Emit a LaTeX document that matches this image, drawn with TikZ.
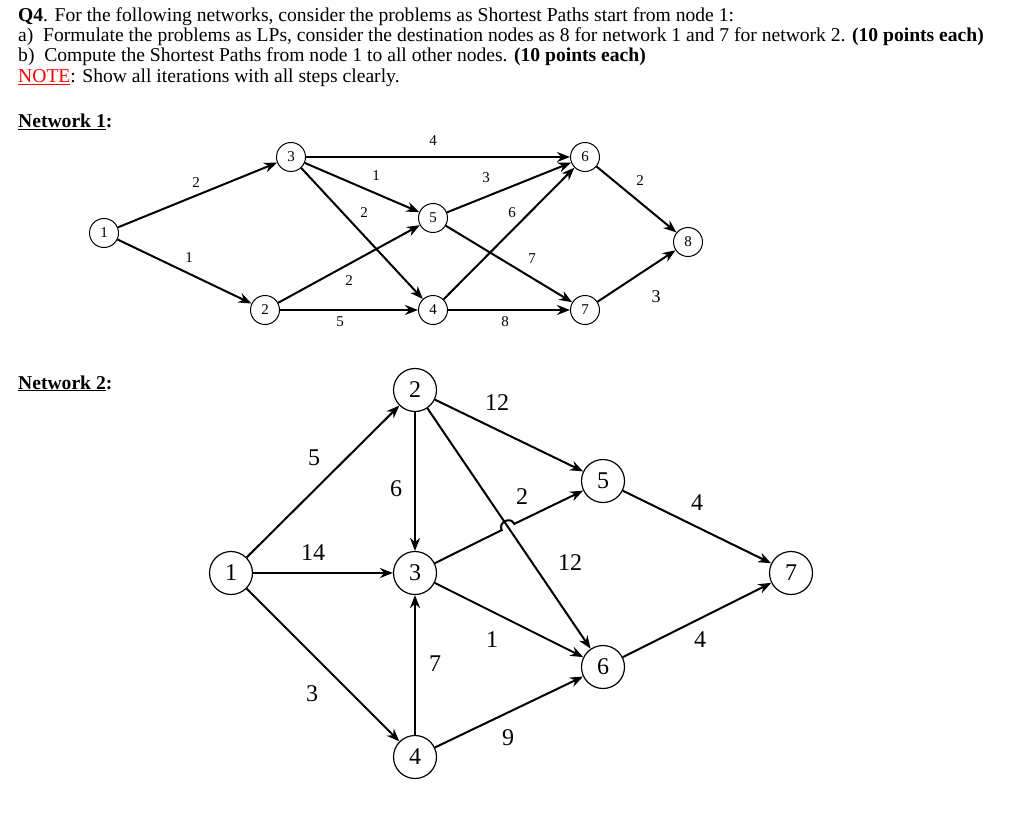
\documentclass[tikz,border=0pt]{standalone}
\usepackage{fontspec}
\setmainfont{Liberation Serif}
\usetikzlibrary{arrows.meta,calc}
\begin{document}
\begin{tikzpicture}[x=1pt,y=-1pt,
  txt/.style={anchor=base west,inner sep=0pt,font=\fontsize{19.6}{22}\selectfont},
  na/.style={circle,draw,line width=1pt,minimum size=29pt,inner sep=0pt,font=\fontsize{15}{17}\selectfont},
  nb/.style={circle,draw,line width=1.2pt,minimum size=43pt,inner sep=0pt,font=\fontsize{24}{26}\selectfont},
  ea/.style={-{Stealth[length=13pt,width=10pt]},line width=2pt},
  la/.style={inner sep=0pt,font=\fontsize{15}{17}\selectfont},
  lb/.style={inner sep=0pt,font=\fontsize{24}{26}\selectfont}]
\useasboundingbox (0,0) rectangle (1024,813);
\node[txt] (h1) at (18,22) {\textbf{Q4}. For the following networks, consider the problems as Shortest Paths start from node 1:};
\node[txt] (h2) at (18,42) {a)\ \ Formulate the problems as LPs, consider the destination nodes as 8 for network 1 and 7 for network 2. \textbf{(10 points each)}};
\node[txt] (h3) at (18,62) {b)\ \ Compute the Shortest Paths from node 1 to all other nodes. \textbf{(10 points each)}};
\node[txt] (h4) at (18,83) {\textcolor{red}{\underline{NOTE}}: Show all iterations with all steps clearly.};
\node[txt] (t1) at (18,128) {\textbf{\underline{Network 1}:}};
\node[txt] (t2) at (18,389) {\textbf{\underline{Network 2}:}};
% network 1
\node[na] (a1) at (104,233) {1};
\node[na] (a2) at (265,310) {2};
\node[na] (a3) at (291,157) {3};
\node[na] (a4) at (433,310) {4};
\node[na] (a5) at (433,218) {5};
\node[na] (a6) at (585,157) {6};
\node[na] (a7) at (585,310) {7};
\node[na] (a8) at (688,242) {8};
\draw[ea] (a1)--(a3); \draw[ea] (a1)--(a2);
\draw[ea] (a3)--(a6); \draw[ea] (a3)--(a5); \draw[ea] (a3)--(a4);
\draw[ea] (a2)--(a5); \draw[ea] (a2)--(a4);
\draw[ea] (a5)--(a6); \draw[ea] (a5)--(a7);
\draw[ea] (a4)--(a6); \draw[ea] (a4)--(a7);
\draw[ea] (a6)--(a8); \draw[ea] (a7)--(a8);
\node[la] at (433,141) {4}; \node[la] at (196,183) {2}; \node[la] at (189,258) {1};
\node[la] at (376,176) {1}; \node[la] at (364,213) {2}; \node[la] at (349,281) {2};
\node[la] at (340,322) {5}; \node[la] at (486,178) {3}; \node[la] at (512,213) {6};
\node[la] at (532,259) {7}; \node[la] at (505,322) {8}; \node[la] at (640,181) {2};
\node[la,font=\fontsize{18}{20}\selectfont] at (656,297) {3};
% network 2
\node[nb] (b1) at (231,573) {1};
\node[nb] (b2) at (415,390) {2};
\node[nb] (b3) at (415,573) {3};
\node[nb] (b4) at (415,757) {4};
\node[nb] (b5) at (603,481) {5};
\node[nb] (b6) at (603,667) {6};
\node[nb] (b7) at (791,573) {7};
\draw[ea] (b1)--(b2); \draw[ea] (b1)--(b3); \draw[ea] (b1)--(b4);
\draw[ea] (b2)--(b3); \draw[ea] (b2)--(b5); \draw[ea] (b2)--(b6);
\draw[ea] (b4)--(b3); \draw[ea] (b3)--(b6); \draw[ea] (b4)--(b6);
\draw[ea] (b5)--(b7); \draw[ea] (b6)--(b7);
\coordinate (c) at (508,527);
\draw[ea] (b3) -- ($(c)+(-6.3,3.1)$) to[out=116,in=116,looseness=1.6] ($(c)+(6.3,-3.1)$) -- (b5);
\node[lb] at (314,458) {5}; \node[lb] at (396,489) {6}; \node[lb] at (497,403) {12};
\node[lb] at (522,497) {2}; \node[lb] at (697,503) {4}; \node[lb] at (313,553) {14};
\node[lb] at (570,563) {12}; \node[lb] at (492,640) {1}; \node[lb] at (435,664) {7};
\node[lb] at (700,640) {4}; \node[lb] at (312,694) {3}; \node[lb] at (508,738) {9};
\end{tikzpicture}
\end{document}
